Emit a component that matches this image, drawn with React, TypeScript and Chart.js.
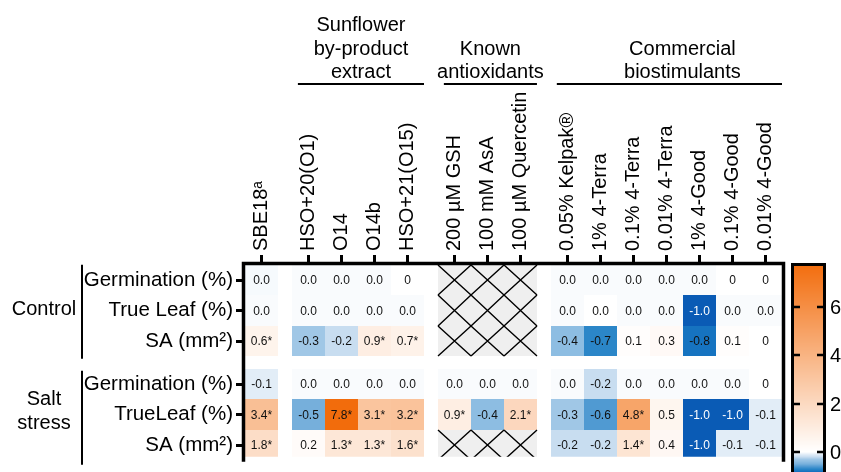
import React, { useEffect, useRef } from 'react';
import { Chart, registerables } from 'chart.js';

Chart.register(...registerables);

// ---------- DATA ----------
const columnLabels = [
  'SBE18ᵃ', 'HSO+20(O1)', 'O14', 'O14b', 'HSO+21(O15)',
  '200 µM GSH', '100 mM AsA', '100 µM Quercetin',
  '0.05% Kelpak®', '1% 4-Terra', '0.1% 4-Terra', '0.01% 4-Terra',
  '1% 4-Good', '0.1% 4-Good', '0.01% 4-Good',
];
const columnGroupOf = [0, 1, 1, 1, 1, 2, 2, 2, 3, 3, 3, 3, 3, 3, 3];
const columnGroupTitles = [[], ['Sunflower', 'by-product', 'extract'], ['Known', 'antioxidants'], ['Commercial', 'biostimulants']];

const rowLabels = ['Germination (%)', 'True Leaf (%)', 'SA (mm²)', 'Germination (%)', 'TrueLeaf (%)', 'SA (mm²)'];
const rowGroupOf = [0, 0, 0, 1, 1, 1];
const rowGroupTitles = [['Control'], ['Salt', 'stress']];

// colour values (null = not tested / hatched)
const controlGermination = [-0.03, -0.02, -0.02, -0.02, 0, null, null, null, -0.02, -0.02, -0.02, -0.02, -0.02, 0, 0];
const controlTrueLeaf = [-0.02, -0.02, -0.02, -0.02, -0.02, null, null, null, -0.02, 0, -0.02, -0.02, -1.0, -0.02, -0.02];
const controlSA = [0.6, -0.3, -0.2, 0.9, 0.7, null, null, null, -0.4, -0.7, 0.1, 0.3, -0.8, 0.1, 0];
const saltGermination = [-0.1, -0.02, -0.02, -0.02, -0.02, -0.02, -0.02, -0.02, -0.02, -0.2, -0.02, -0.02, -0.02, -0.02, 0];
const saltTrueLeaf = [3.4, -0.5, 7.8, 3.1, 3.2, 0.9, -0.4, 2.1, -0.3, -0.6, 4.8, 0.5, -1.0, -1.0, -0.1];
const saltSA = [1.8, 0.2, 1.3, 1.3, 1.6, null, null, null, -0.2, -0.2, 1.4, 0.4, -1.0, -0.1, -0.1];

// printed labels
const controlGerminationText = ['0.0', '0.0', '0.0', '0.0', '0', null, null, null, '0.0', '0.0', '0.0', '0.0', '0.0', '0', '0'];
const controlTrueLeafText = ['0.0', '0.0', '0.0', '0.0', '0.0', null, null, null, '0.0', '0.0', '0.0', '0.0', '-1.0', '0.0', '0.0'];
const controlSAText = ['0.6*', '-0.3', '-0.2', '0.9*', '0.7*', null, null, null, '-0.4', '-0.7', '0.1', '0.3', '-0.8', '0.1', '0'];
const saltGerminationText = ['-0.1', '0.0', '0.0', '0.0', '0.0', '0.0', '0.0', '0.0', '0.0', '-0.2', '0.0', '0.0', '0.0', '0.0', '0'];
const saltTrueLeafText = ['3.4*', '-0.5', '7.8*', '3.1*', '3.2*', '0.9*', '-0.4', '2.1*', '-0.3', '-0.6', '4.8*', '0.5', '-1.0', '-1.0', '-0.1'];
const saltSAText = ['1.8*', '0.2', '1.3*', '1.3*', '1.6*', null, null, null, '-0.2', '-0.2', '1.4*', '0.4', '-1.0', '-0.1', '-0.1'];

const colorbarTicks = [0, 2, 4, 6];

const rowValues = [controlGermination, controlTrueLeaf, controlSA, saltGermination, saltTrueLeaf, saltSA];
const rowTexts = [controlGerminationText, controlTrueLeafText, controlSAText, saltGerminationText, saltTrueLeafText, saltSAText];

// ---------- LAYOUT / STYLE ----------
const GAP = 0.42;
const FONT = 'Arial, "Liberation Sans", Helvetica, sans-serif';
const colX = (i: number) => i + GAP * columnGroupOf[i];
const rowY = (r: number) => r + GAP * rowGroupOf[r];

const NEG_STOPS: [number, number[]][] = [
  [0, [255, 255, 255]], [-0.1, [226, 237, 247]], [-0.2, [200, 221, 240]], [-0.3, [160, 199, 230]],
  [-0.4, [141, 189, 226]], [-0.5, [118, 175, 219]], [-0.6, [80, 154, 210]], [-0.7, [43, 134, 200]],
  [-0.8, [22, 115, 192]], [-1.0, [10, 91, 181]],
];
const POS_END = [242, 108, 12];

const allVals = rowValues.flat().filter((v) => v !== null) as number[];
const V_MIN = Math.min(...allVals);
const V_MAX = Math.max(...allVals);

function colorFor(v: number): string {
  if (v >= 0) {
    const t = Math.min(1, v / V_MAX);
    const c = [0, 1, 2].map((k) => Math.round(255 + (POS_END[k] - 255) * t));
    return `rgb(${c[0]},${c[1]},${c[2]})`;
  }
  for (let i = 1; i < NEG_STOPS.length; i++) {
    const [v0, c0] = NEG_STOPS[i - 1];
    const [v1, c1] = NEG_STOPS[i];
    if (v >= v1 || i === NEG_STOPS.length - 1) {
      const t = Math.max(0, Math.min(1, (v - v0) / (v1 - v0)));
      const c = [0, 1, 2].map((k) => Math.round(c0[k] + (c1[k] - c0[k]) * t));
      return `rgb(${c[0]},${c[1]},${c[2]})`;
    }
  }
  return '#fff';
}

const cells: any[] = [];
rowValues.forEach((vals, r) => {
  vals.forEach((v, c) => {
    cells.push({ x: colX(c), y: rowY(r), v, t: rowTexts[r][c] });
  });
});

const heatPlugin = {
  id: 'heat',
  beforeDatasetsDraw(chart: any) {
    const { ctx, chartArea, scales } = chart;
    const xs = scales.x, ys = scales.y;
    ctx.save();
    ctx.beginPath();
    ctx.rect(chartArea.left, chartArea.top, chartArea.right - chartArea.left, chartArea.bottom - chartArea.top);
    ctx.clip();
    for (const p of chart.data.datasets[0].data) {
      const l = Math.round(xs.getPixelForValue(p.x - 0.5));
      const r = Math.round(xs.getPixelForValue(p.x + 0.5));
      const t = Math.round(ys.getPixelForValue(p.y - 0.5));
      const b = Math.round(ys.getPixelForValue(p.y + 0.5));
      if (p.v === null) {
        ctx.fillStyle = '#efefef';
        ctx.fillRect(l, t, r - l, b - t);
        ctx.strokeStyle = '#000';
        ctx.lineWidth = 1.4;
        ctx.beginPath();
        ctx.moveTo(l, t); ctx.lineTo(r, b);
        ctx.moveTo(r, t); ctx.lineTo(l, b);
        ctx.stroke();
      } else {
        ctx.fillStyle = colorFor(p.v);
        ctx.fillRect(l, t, r - l, b - t);
        if (p.t) {
          ctx.fillStyle = p.v <= -0.9 ? '#ffffff' : '#111111';
          ctx.font = `12px ${FONT}`;
          ctx.textAlign = 'center';
          ctx.textBaseline = 'middle';
          ctx.fillText(p.t, (l + r) / 2, (t + b) / 2 + 1);
        }
      }
    }
    ctx.restore();
  },
  afterDraw(chart: any) {
    const { ctx, chartArea, scales } = chart;
    const xs = scales.x, ys = scales.y;
    const unitX = xs.getPixelForValue(1) - xs.getPixelForValue(0);
    ctx.save();
    // frame
    ctx.strokeStyle = '#000';
    ctx.lineWidth = 3.5;
    ctx.beginPath();
    ctx.moveTo(chartArea.left - 1.5, chartArea.bottom + 5);
    ctx.lineTo(chartArea.left - 1.5, chartArea.top - 1.5);
    ctx.lineTo(chartArea.right + 1.5, chartArea.top - 1.5);
    ctx.lineTo(chartArea.right + 1.5, chartArea.bottom + 5);
    ctx.stroke();

    // column group titles
    ctx.fillStyle = '#000';
    ctx.font = `20px ${FONT}`;
    ctx.textAlign = 'center';
    ctx.textBaseline = 'alphabetic';
    const titleShift = [0, 0, 0, 13];
    columnGroupTitles.forEach((lines, g) => {
      if (!lines.length) return;
      const idx = columnGroupOf.map((gg, i) => (gg === g ? i : -1)).filter((i) => i >= 0);
      const x0 = xs.getPixelForValue(colX(idx[0])) - unitX / 2 + 6;
      const x1 = xs.getPixelForValue(colX(idx[idx.length - 1])) + unitX / 2;
      const cx = (x0 + x1) / 2 + titleShift[g];
      lines.forEach((s, k) => {
        ctx.fillText(s, cx, 78 - (lines.length - 1 - k) * 23.3);
      });
      ctx.lineWidth = 2;
      ctx.beginPath();
      ctx.moveTo(x0, 84);
      ctx.lineTo(x1, 84);
      ctx.stroke();
    });

    // row group titles
    ctx.textBaseline = 'middle';
    rowGroupTitles.forEach((lines, g) => {
      const idx = rowGroupOf.map((gg, i) => (gg === g ? i : -1)).filter((i) => i >= 0);
      const cy = (ys.getPixelForValue(rowY(idx[0])) + ys.getPixelForValue(rowY(idx[idx.length - 1]))) / 2;
      lines.forEach((s, k) => {
        ctx.fillText(s, 44, cy + (k - (lines.length - 1) / 2) * 24 - (lines.length > 1 ? 3 : 1));
      });
      ctx.lineWidth = 2;
      ctx.beginPath();
      const shift = g === 0 ? 1 : 3;
      ctx.moveTo(82, cy - 47 + shift);
      ctx.lineTo(82, cy + 47 + shift);
      ctx.stroke();
    });

    // colour bar
    const cbL = 791, cbR = 826, cbTop = 263;
    const pxPerUnit = 24.23;
    const cbBottom = cbTop + (V_MAX - V_MIN) * pxPerUnit;
    const yFor = (v: number) => cbTop + (V_MAX - v) * pxPerUnit;
    for (let yy = cbTop; yy < cbBottom; yy++) {
      const v = V_MAX - (yy + 0.5 - cbTop) / pxPerUnit;
      ctx.fillStyle = colorFor(v);
      ctx.fillRect(cbL + 2, yy, cbR - cbL - 4, 1);
    }
    ctx.lineWidth = 3;
    ctx.strokeStyle = '#000';
    ctx.strokeRect(cbL + 1.5, cbTop + 1.5, cbR - cbL - 3, cbBottom - cbTop);
    ctx.lineWidth = 2.5;
    ctx.fillStyle = '#000';
    ctx.textAlign = 'left';
    ctx.textBaseline = 'middle';
    ctx.font = `20px ${FONT}`;
    colorbarTicks.forEach((v) => {
      const yy = Math.round(yFor(v));
      ctx.beginPath();
      ctx.moveTo(cbL + 2, yy); ctx.lineTo(cbL + 9, yy);
      ctx.moveTo(cbR - 9, yy); ctx.lineTo(cbR - 2, yy);
      ctx.stroke();
      ctx.fillText(String(v), 830, yy + 1);
    });
    ctx.restore();
  },
};

export default function App() {
  const ref = useRef<HTMLCanvasElement | null>(null);
  useEffect(() => {
    if (!ref.current) return;
    const chart = new Chart(ref.current, {
      type: 'scatter',
      data: {
        datasets: [{ data: cells, pointRadius: 0, pointHoverRadius: 0, showLine: false }],
      },
      options: {
        responsive: false,
        animation: false,
        events: [],
        layout: { padding: { left: 0, top: 0, right: 59, bottom: 0 } },
        plugins: { legend: { display: false }, tooltip: { enabled: false } },
        scales: {
          x: {
            type: 'linear',
            position: 'top',
            min: -0.5,
            max: colX(columnLabels.length - 1) + 0.5,
            afterFit: (axis: any) => { axis.height = 265; },
            afterBuildTicks: (axis: any) => { axis.ticks = columnLabels.map((_, i) => ({ value: colX(i) })); },
            border: { display: false },
            grid: { display: true, drawOnChartArea: false, drawTicks: true, tickLength: 10, tickWidth: 3, lineWidth: 3, tickColor: '#000', color: '#000' },
            ticks: {
              autoSkip: false,
              minRotation: 90,
              maxRotation: 90,
              padding: 4,
              labelOffset: 24,
              color: '#000',
              font: { family: FONT, size: 20 },
              callback: (_v: any, i: number) => columnLabels[i],
            },
          },
          y: {
            type: 'linear',
            position: 'left',
            reverse: true,
            min: -0.5,
            max: 5.8,
            afterFit: (axis: any) => { axis.width = 245; },
            afterBuildTicks: (axis: any) => { axis.ticks = rowLabels.map((_, i) => ({ value: rowY(i) })); },
            border: { display: false },
            grid: { display: true, drawOnChartArea: false, drawTicks: true, tickLength: 9, tickWidth: 3, lineWidth: 3, tickColor: '#000', color: '#000' },
            ticks: {
              autoSkip: false,
              padding: 3,
              color: '#000',
              font: { family: FONT, size: 20.5 },
              callback: (_v: any, i: number) => rowLabels[i],
            },
          },
        },
      },
      plugins: [heatPlugin],
    });
    return () => chart.destroy();
  }, []);
  return (
    <div style={{ position: 'absolute', left: 0, top: 0, width: 841, height: 472, background: '#fff', overflow: 'hidden' }}>
      <canvas ref={ref} width={841} height={472} style={{ display: 'block' }} />
    </div>
  );
}
